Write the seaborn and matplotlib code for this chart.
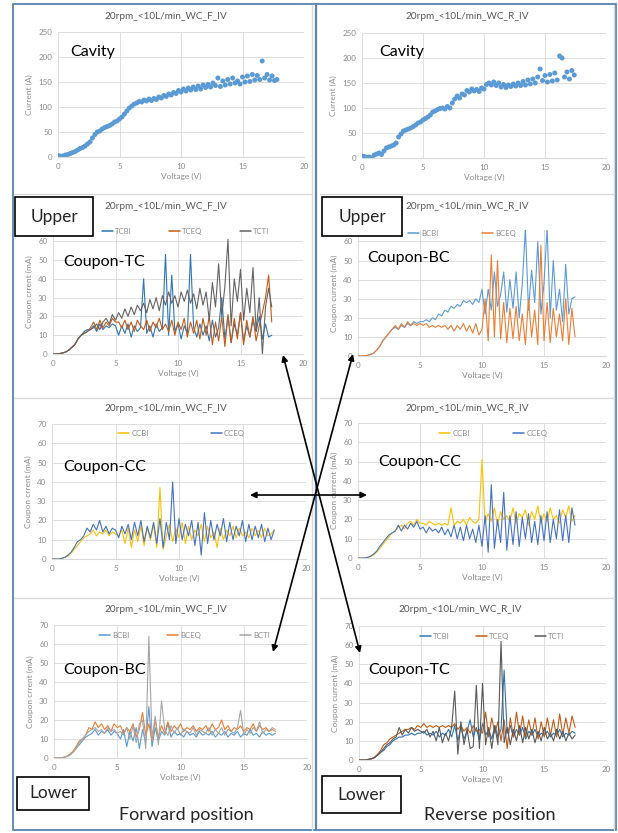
import numpy as np
import seaborn as sns
import matplotlib.pyplot as plt
from matplotlib.patches import Rectangle

sns.set_style("white")
plt.rcParams['font.family'] = ['Lato', 'DejaVu Sans']

# ---------------- data ----------------
cav_v = [0.0, 0.2, 0.4, 0.6, 0.8, 1.0, 1.2, 1.4, 1.6, 1.8,
         2.0, 2.2, 2.4, 2.6, 2.8, 3.0, 3.2, 3.4, 3.6, 3.8,
         4.0, 4.2, 4.4, 4.6, 4.8, 5.0, 5.2, 5.4, 5.6, 5.8,
         6.0, 6.2, 6.4, 6.6, 6.8, 7.0, 7.2, 7.4, 7.6, 7.8,
         8.0, 8.2, 8.4, 8.6, 8.8, 9.0, 9.2, 9.4, 9.6, 9.8,
         10.0, 10.2, 10.4, 10.6, 10.8, 11.0, 11.2, 11.4, 11.6, 11.8,
         12.0, 12.2, 12.4, 12.6, 12.8, 13.0, 13.2, 13.4, 13.6, 13.8,
         14.0, 14.2, 14.4, 14.6, 14.8, 15.0, 15.2, 15.4, 15.6, 15.8,
         16.0, 16.2, 16.4, 16.6, 16.8, 17.0, 17.2, 17.4, 17.6, 17.8]

cav_f = [3, 2, 2, 4, 5, 7, 9, 11, 14, 17,
         19, 22, 26, 30, 38, 45, 50, 52, 56, 59,
         61, 63, 66, 70, 72, 76, 80, 86, 92, 98,
         102, 106, 108, 111, 110, 114, 112, 116, 113, 117,
         115, 120, 118, 123, 121, 126, 124, 129, 127, 133,
         130, 136, 132, 138, 134, 140, 135, 142, 136, 144,
         139, 145, 140, 148, 143, 158, 141, 152, 144, 155,
         146, 158, 148, 152, 146, 160, 150, 162, 151, 165,
         154, 163, 155, 192, 158, 165, 154, 162, 153, 155]

cav_r = [4, 3, 1, 2, 0, 6, 8, 10, 7, 14,
         20, 22, 24, 26, 30, 42, 48, 54, 56, 58,
         60, 63, 66, 70, 72, 76, 79, 82, 86, 92,
         94, 97, 99, 100, 98, 103, 100, 110, 118, 124,
         120, 128, 126, 135, 132, 138, 134, 137, 133, 140,
         138, 147, 150, 146, 152, 145, 150, 142, 147, 141,
         146, 143, 148, 144, 150, 145, 153, 146, 156, 148,
         158, 150, 162, 178, 155, 165, 152, 167, 154, 170,
         156, 204, 200, 162, 172, 158, 175, 166]

volt = [0.0, 0.25, 0.5, 0.75, 1.0, 1.25, 1.5, 1.75, 2.0, 2.25,
        2.5, 2.75, 3.0, 3.25, 3.5, 3.75, 4.0, 4.25, 4.5, 4.75,
        5.0, 5.25, 5.5, 5.75, 6.0, 6.25, 6.5, 6.75, 7.0, 7.25,
        7.5, 7.75, 8.0, 8.25, 8.5, 8.75, 9.0, 9.25, 9.5, 9.75,
        10.0, 10.25, 10.5, 10.75, 11.0, 11.25, 11.5, 11.75, 12.0, 12.25,
        12.5, 12.75, 13.0, 13.25, 13.5, 13.75, 14.0, 14.25, 14.5, 14.75,
        15.0, 15.25, 15.5, 15.75, 16.0, 16.25, 16.5, 16.75, 17.0, 17.25,
        17.5]

# forward, upper: Coupon-TC
tcbi_f = [0, 0, 0.2, 0.5, 1, 2, 3.5, 5, 8, 10,
          12, 13, 13, 15, 12, 16, 13, 15, 14, 16,
          15, 10, 15, 11, 16, 9, 15, 12, 14, 40,
          11, 15, 9, 16, 12, 14, 53, 10, 42, 12,
          16, 8, 15, 11, 53, 14, 9, 16, 10, 15,
          7, 18, 9, 14, 30, 8, 20, 6, 16, 10,
          22, 7, 15, 9, 18, 12, 20, 8, 16, 9,
          10]
tceq_f = [0, 0, 0.2, 0.5, 1, 2, 3.5, 5, 8, 10,
          11, 12, 14, 17, 13, 18, 14, 17, 15, 19,
          17, 17, 14, 18, 13, 17, 12, 18, 15, 13,
          18, 12, 17, 14, 19, 13, 16, 12, 18, 10,
          17, 13, 19, 9, 17, 11, 18, 8, 19, 10,
          20, 5, 17, 7, 20, 4, 21, 6, 19, 8,
          22, 5, 18, 9, 20, 7, 15, 22, 30, 42,
          17]
tcti_f = [0, 0, 0.2, 0.5, 1, 2, 3.5, 5, 8, 10,
          11, 12, 13, 14, 16, 13, 17, 19, 16, 21,
          18, 22, 19, 24, 20, 25, 21, 26, 23, 27,
          22, 29, 24, 30, 23, 31, 26, 33, 27, 31,
          25, 33, 28, 34, 27, 32, 24, 35, 26, 33,
          18, 38, 25, 48, 20, 36, 61, 15, 40, 28,
          45, 18, 35, 22, 46, 12, 30, 0, 25, 35,
          25]

# reverse, upper: Coupon-BC
bcbi_r = [0, 0, 0.1, 0.3, 0.8, 1.5, 3, 5, 8, 10,
          12, 14, 15, 14, 16, 15, 17, 16, 18, 17,
          18, 18, 19, 18, 20, 19, 22, 21, 24, 23,
          26, 25, 27, 26, 29, 28, 29, 27, 30, 28,
          35, 22, 35, 24, 44, 26, 32, 44, 23, 40,
          25, 44, 20, 38, 67, 24, 45, 28, 60, 22,
          38, 67, 20, 50, 24, 35, 18, 48, 22, 30,
          31]
bceq_r = [0, 0, 0.1, 0.3, 0.8, 1.5, 3, 5, 8, 10,
          12, 14, 16, 14, 17, 15, 18, 16, 17, 16,
          17, 16, 17, 15, 16, 15, 16, 15, 16, 14,
          16, 13, 16, 14, 17, 13, 16, 12, 17, 11,
          14, 30, 8, 53, 10, 50, 9, 28, 7, 25,
          9, 26, 8, 22, 6, 30, 10, 24, 6, 58,
          8, 28, 7, 25, 10, 22, 8, 30, 6, 25,
          10]

# Coupon-CC
ccbi_f = [0, 0, 0, 0.3, 0.8, 1.5, 3, 5, 7, 9,
          11, 12, 13, 15, 12, 14, 13, 15, 12, 14,
          13, 12, 15, 8, 16, 6, 15, 9, 17, 7,
          16, 10, 18, 6, 37, 5, 12, 18, 9, 16,
          11, 19, 8, 17, 10, 15, 12, 18, 9, 17,
          11, 14, 6, 16, 10, 15, 12, 17, 11, 16,
          12, 14, 11, 16, 12, 15, 11, 16, 12, 13,
          15]
cceq_f = [0, 0, 0, 0.3, 0.8, 2, 3.5, 6, 9, 10,
          12, 16, 14, 18, 15, 20, 14, 17, 13, 16,
          15, 11, 17, 13, 18, 10, 19, 12, 20, 9,
          17, 11, 19, 8, 21, 6, 19, 10, 40, 8,
          21, 10, 18, 12, 20, 7, 19, 2, 24, 8,
          20, 10, 18, 12, 21, 9, 19, 10, 17, 12,
          20, 9, 18, 10, 17, 11, 18, 9, 16, 10,
          15]
ccbi_r = [0, 0, 0, 0.3, 0.8, 1.5, 3, 5, 7, 9,
          11, 13, 14, 16, 17, 15, 18, 19, 17, 20,
          18, 18, 17, 19, 18, 17, 18, 17, 18, 17,
          26, 17, 19, 18, 20, 17, 21, 19, 18, 20,
          51, 18, 23, 19, 26, 17, 24, 20, 22, 19,
          26, 18, 23, 21, 25, 17, 24, 20, 27, 18,
          23, 19, 26, 20, 22, 18, 25, 21, 27, 19,
          22]
cceq_r = [0, 0, 0, 0.3, 0.8, 2, 3.5, 6, 8, 10,
          12, 13, 14, 17, 14, 17, 15, 18, 16, 19,
          15, 16, 13, 16, 14, 15, 13, 16, 12, 15,
          11, 17, 10, 16, 9, 17, 10, 15, 8, 17,
          6, 22, 3, 38, 5, 20, 8, 34, 4, 22,
          7, 24, 6, 21, 10, 23, 8, 19, 7, 22,
          9, 24, 8, 20, 10, 25, 9, 22, 8, 26,
          17]

# forward, lower: Coupon-BC
bcbi_f = [0, 0, 0, 0.3, 0.8, 1.5, 3, 5, 7, 9,
          11, 12, 13, 15, 12, 14, 13, 15, 12, 14,
          13, 10, 15, 6, 14, 9, 16, 5, 15, 8,
          27, 6, 16, 9, 14, 12, 18, 11, 14, 12,
          13, 11, 14, 12, 13, 11, 14, 12, 13, 12,
          14, 11, 13, 12, 14, 11, 13, 12, 14, 11,
          13, 12, 15, 12, 13, 11, 14, 12, 13, 12,
          13]
bceq_f = [0, 0, 0, 0.3, 0.8, 2, 3.5, 6, 9, 10,
          12, 16, 15, 19, 16, 18, 15, 17, 14, 18,
          16, 17, 13, 16, 14, 18, 11, 15, 24, 12,
          18, 9, 20, 11, 17, 13, 19, 14, 17, 15,
          18, 14, 16, 15, 17, 14, 16, 15, 17, 14,
          18, 15, 16, 20, 15, 17, 14, 16, 15, 17,
          14, 16, 15, 18, 14, 17, 15, 16, 14, 15,
          14]
bcti_f = [0, 0, 0, 0.3, 0.8, 1.5, 3, 5, 8, 10,
          12, 14, 15, 16, 14, 15, 13, 16, 14, 15,
          13, 14, 12, 16, 10, 17, 8, 18, 20, 5,
          64, 10, 22, 7, 30, 15, 12, 17, 13, 16,
          12, 15, 14, 13, 16, 12, 15, 14, 13, 16,
          12, 15, 13, 16, 12, 15, 14, 13, 16, 25,
          12, 15, 13, 16, 14, 19, 13, 15, 14, 16,
          15]

# reverse, lower: Coupon-TC
tcbi_r = [0, 0, 0, 0.3, 0.6, 1.2, 2.5, 4, 5, 7,
          8, 10, 11, 12, 12, 13, 13, 14, 13, 14,
          14, 15, 13, 14, 13, 15, 12, 14, 13, 16,
          12, 18, 10, 17, 11, 15, 21, 12, 17, 10,
          19, 13, 16, 11, 18, 12, 16, 47, 14, 18,
          12, 16, 13, 17, 11, 15, 13, 16, 12, 14,
          13, 15, 12, 14, 13, 16, 12, 14, 13, 15,
          14]
tceq_r = [0, 0, 0, 0.3, 0.6, 1.5, 3, 5, 8, 9,
          11, 12, 13, 14, 15, 16, 16, 17, 16, 18,
          17, 19, 17, 18, 17, 18, 17, 18, 17, 18,
          17, 19, 16, 18, 15, 17, 14, 18, 15, 16,
          14, 25, 12, 22, 14, 20, 10, 21, 6, 22,
          12, 25, 13, 23, 12, 21, 13, 22, 11, 20,
          12, 22, 13, 21, 12, 24, 13, 22, 14, 23,
          17]
tcti_r = [0, 0, 0, 0.3, 0.6, 1.2, 2.5, 4, 6, 8,
          9, 11, 12, 17, 13, 16, 14, 17, 15, 16,
          15, 14, 16, 12, 15, 10, 17, 9, 14, 10,
          17, 36, 3, 20, 8, 16, 6, 7, 39, 6,
          40, 8, 17, 6, 18, 8, 62, 9, 17, 8,
          16, 10, 18, 9, 17, 11, 16, 9, 15, 10,
          17, 11, 14, 10, 16, 11, 15, 10, 14, 11,
          13]

title_f = "20rpm_<10L/min_WC_F_IV"
title_r = "20rpm_<10L/min_WC_R_IV"

# ---------------- figure ----------------
W, H = 618, 833
fig = plt.figure(figsize=(W / 100, H / 100), dpi=100)
fig.patch.set_facecolor("white")

TICK = "#8c8c8c"
GRID = "#d9d9d9"


def px_axes(x0, y0, x1, y1):
    return fig.add_axes([x0 / W, 1 - y1 / H, (x1 - x0) / W, (y1 - y0) / H])


def style(ax, yticks, ytop, ylabel):
    ax.set_xlim(0, 20)
    ax.set_ylim(0, ytop)
    ax.set_xticks([0, 5, 10, 15, 20])
    ax.set_yticks(yticks)
    ax.grid(True, color=GRID, lw=0.6)
    ax.set_axisbelow(True)
    for s in ["top", "right", "left"]:
        ax.spines[s].set_visible(False)
    ax.spines["bottom"].set_color(GRID)
    ax.spines["bottom"].set_linewidth(0.8)
    ax.tick_params(length=0, labelsize=5.8, labelcolor=TICK, pad=4)
    ax.set_xlabel("Voltage (V)", fontsize=6, color=TICK, labelpad=2)
    ax.set_ylabel(ylabel, fontsize=6, color=TICK, labelpad=4)


def coupon(ax, ys, names, colors, leg_xy, colsp):
    for y, n, c in zip(ys, names, colors):
        sns.lineplot(x=volt, y=y, label=n, color=c, lw=0.8, sort=False,
                     estimator=None, ax=ax)
    leg = ax.legend(handles=ax.get_lines()[:len(names)], labels=names,
                    loc="center", bbox_to_anchor=leg_xy, ncol=len(names),
                    frameon=False, fontsize=5.6, handlelength=1.4,
                    handletextpad=0.3, columnspacing=colsp, labelcolor=TICK)
    for ln, c in zip(leg.get_lines(), colors):
        ln.set_color(c)
        ln.set_linewidth(1.1)


tc_cols = ["#2e75b6", "#c55a11", "#636363"]
bc_cols = ["#5b9bd5", "#ed7d31", "#a5a5a5"]
cc_cols = ["#ffc000", "#4472c4"]
y_cav = [0, 50, 100, 150, 200, 250]
y60 = [0, 10, 20, 30, 40, 50, 60]
y70 = [0, 10, 20, 30, 40, 50, 60, 70]

# cavity
ax1 = px_axes(58, 32, 304, 157)
sns.scatterplot(x=cav_v, y=cav_f, color="#5b9bd5", s=13, edgecolor="none", ax=ax1)
style(ax1, y_cav, 250, "Current (A)")

ax2 = px_axes(362, 33, 606, 158)
sns.scatterplot(x=cav_v[:len(cav_r)], y=cav_r, color="#5b9bd5", s=13,
                edgecolor="none", ax=ax2)
style(ax2, y_cav, 250, "Current (A)")

# upper coupons
ax3 = px_axes(53, 230, 303, 354)
coupon(ax3, [tcbi_f, tceq_f, tcti_f], ["TCBI", "TCEQ", "TCTI"], tc_cols, (0.53, 0.99), 4.8)
style(ax3, y60, 66, "Coupon crrent (mA)")

ax4 = px_axes(358, 230, 606, 356)
coupon(ax4, [bcbi_r, bceq_r], ["BCBI", "BCEQ"], bc_cols[:2], (0.42, 0.975), 5.6)
style(ax4, y60, 66, "Coupon current (mA)")

# middle coupons
ax5 = px_axes(52, 424, 306, 559)
coupon(ax5, [ccbi_f, cceq_f], ["CCBI", "CCEQ"], cc_cols, (0.51, 0.93), 8.0)
style(ax5, y70, 70, "Coupon crrent (mA)")

ax6 = px_axes(358, 423, 606, 558)
coupon(ax6, [ccbi_r, cceq_r], ["CCBI", "CCEQ"], cc_cols, (0.545, 0.925), 5.6)
style(ax6, y70, 70, "Coupon current (mA)")

# lower coupons
ax7 = px_axes(54, 625, 307, 758)
coupon(ax7, [bcbi_f, bceq_f, bcti_f], ["BCBI", "BCEQ", "BCTI"], bc_cols, (0.515, 0.92), 4.9)
style(ax7, y70, 70, "Coupon crrent (mA)")

ax8 = px_axes(359, 626, 606, 760)
coupon(ax8, [tcbi_r, tceq_r, tcti_r], ["TCBI", "TCEQ", "TCTI"], ["#2e75b6", "#c55a11", "#595959"],
       (0.54, 0.92), 3.3)
style(ax8, y70, 70, "Coupon current (mA)")

# ---------------- overlay: frames, labels, arrows ----------------
ov = fig.add_axes([0, 0, 1, 1])
ov.set_xlim(0, W)
ov.set_ylim(H, 0)
ov.axis("off")
ov.set_zorder(10)
ov.patch.set_alpha(0)

# light chart-area separators
for y in [194, 398, 598]:
    ov.plot([14, 312], [y, y], color=GRID, lw=1)
    ov.plot([320, 614], [y, y], color=GRID, lw=1)
ov.plot([312, 312], [5, 830], color=GRID, lw=1)
ov.plot([614, 614], [5, 830], color=GRID, lw=1)

# blue outer frame
ov.add_patch(Rectangle((13, 4), 603, 826, fill=False, ec="#5b82b0", lw=1.3))
ov.plot([316, 316], [4, 830], color="#5b82b0", lw=1.6)

# chart titles
for x, y, t in [(166, 16, title_f), (467, 16, title_r), (166, 206, title_f),
                (467, 206, title_r), (166, 408, title_f), (467, 408, title_r),
                (166, 610, title_f), (460, 610, title_r)]:
    ov.text(x, y, t, ha="center", va="center", fontsize=7.2, color="#595959")

# panel tags
for x, y, t in [(70, 52, "Cavity"), (379, 52, "Cavity"), (63, 262, "Coupon-TC"),
                (367, 258, "Coupon-BC"), (63, 467, "Coupon-CC"), (378, 462, "Coupon-CC"),
                (63, 670, "Coupon-BC"), (368, 670, "Coupon-TC")]:
    ov.text(x, y, t, ha="left", va="center", fontsize=11.5, color="black")

# boxed position labels
for x0, y0, w, h, t in [(15, 197, 78, 39, "Upper"), (322, 197, 80, 39, "Upper"),
                        (17, 777, 72, 33, "Lower"), (322, 776, 79, 37, "Lower")]:
    ov.add_patch(Rectangle((x0, y0), w, h, fc="white", ec="black", lw=1.2))
    ov.text(x0 + w / 2, y0 + h / 2, t, ha="center", va="center", fontsize=12.5)

ov.text(186, 815, "Forward position", ha="center", va="center", fontsize=13)
ov.text(490, 815, "Reverse position", ha="center", va="center", fontsize=13)

# arrows
arr = dict(arrowstyle="<|-|>", color="black", lw=1.2, mutation_scale=9,
           shrinkA=0, shrinkB=0)
for (xa, ya), (xb, yb) in [((283, 355), (360, 653)), ((353, 354), (273, 652)),
                           ((250, 495), (367, 495))]:
    ov.annotate("", xy=(xa, ya), xytext=(xb, yb), arrowprops=arr)

fig.savefig("out.png", dpi=100, facecolor="white")
